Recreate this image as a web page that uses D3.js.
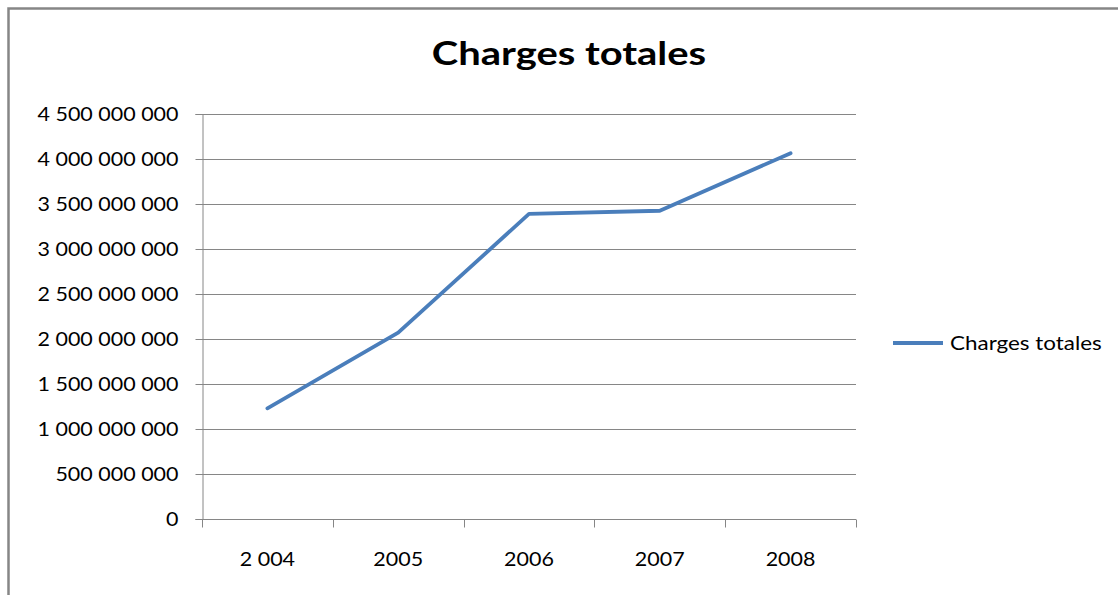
<!DOCTYPE html>
<html>
<head>
<meta charset="utf-8">
<script src="https://cdn.jsdelivr.net/npm/d3@7"></script>
<style>
  html, body { margin: 0; padding: 0; background: #fff; }
  svg { display: block; }
  text { font-family: Lato, "Open Sans", "Liberation Sans", sans-serif; fill: #000; }
</style>
</head>
<body>
<svg id="chart" width="1118" height="595"></svg>
<script>
// Data
const title = "Charges totales";
const seriesName = "Charges totales";
const years = ["2004", "2005", "2006", "2007", "2008"];
const yearLabels = ["2 004", "2005", "2006", "2007", "2008"];
const totals = [1230000000, 2070000000, 3390000000, 3425000000, 4065000000];
const yTicks = [0, 500000000, 1000000000, 1500000000, 2000000000, 2500000000, 3000000000, 3500000000, 4000000000, 4500000000];

const svg = d3.select("#chart");
const W = 1118, H = 595;
const plot = { left: 202, right: 856, top: 114, bottom: 519 };
const gridColor = "#868686";
const lineColor = "#4a7ebb";

// Widen text glyphs a little (Calibri-like proportions)
function widen(sel, factor) {
  sel.each(function() {
    const w = this.getComputedTextLength();
    d3.select(this).attr("textLength", w * factor).attr("lengthAdjust", "spacingAndGlyphs");
  });
}

// Outer chart frame
svg.append("rect")
  .attr("x", 8.5).attr("y", 8.5)
  .attr("width", W + 20).attr("height", H + 20)
  .attr("fill", "none").attr("stroke", gridColor).attr("stroke-width", 2.5);

// Scales
const x = d3.scaleBand().domain(years).range([plot.left, plot.right]).paddingInner(0).paddingOuter(0);
const y = d3.scaleLinear().domain([0, 4500000000]).range([plot.bottom, plot.top]);

const fmt = v => d3.format(",")(v).replace(/,/g, " ");

// Horizontal gridlines
svg.append("g").selectAll("line").data(yTicks.filter(d => d > 0)).join("line")
  .attr("x1", plot.left).attr("x2", plot.right)
  .attr("y1", d => Math.round(y(d)) + 0.5).attr("y2", d => Math.round(y(d)) + 0.5)
  .attr("stroke", gridColor).attr("stroke-width", 1);

// Y axis
const yAxis = svg.append("g")
  .attr("transform", `translate(${plot.left + 0.5},0)`)
  .call(d3.axisLeft(y).tickValues(yTicks).tickFormat(fmt).tickSize(7).tickPadding(17));
yAxis.select(".domain").attr("stroke", gridColor);
yAxis.selectAll(".tick line").attr("stroke", gridColor);
yAxis.selectAll(".tick").attr("transform", d => `translate(0,${Math.round(y(d)) + 0.5})`);
yAxis.selectAll(".tick text")
  .style("font-family", "Lato, 'Open Sans', sans-serif")
  .attr("font-size", 19).attr("fill", "#000").attr("dy", "0.34em")
  .call(widen, 1.13);

// X axis with ticks at category boundaries
const xAxisG = svg.append("g").attr("transform", `translate(0,${Math.round(plot.bottom) + 0.5})`);
xAxisG.append("line").attr("x1", plot.left).attr("x2", plot.right)
  .attr("stroke", gridColor).attr("stroke-width", 1);
const boundaries = years.map(d => x(d)).concat([x(years[years.length - 1]) + x.bandwidth()]);
xAxisG.selectAll("line.tk").data(boundaries).join("line").attr("class", "tk")
  .attr("x1", d => Math.round(d) + 0.5).attr("x2", d => Math.round(d) + 0.5)
  .attr("y1", 0).attr("y2", 8)
  .attr("stroke", gridColor).attr("stroke-width", 1);
xAxisG.selectAll("text").data(years).join("text")
  .attr("x", d => x(d) + x.bandwidth() / 2)
  .attr("y", 46)
  .attr("text-anchor", "middle")
  .attr("font-size", 19)
  .text((d, i) => yearLabels[i])
  .call(widen, 1.13);

// Series line
const line = d3.line()
  .x((d, i) => x(years[i]) + x.bandwidth() / 2)
  .y(d => y(d));
svg.append("path").datum(totals)
  .attr("d", line)
  .attr("fill", "none")
  .attr("stroke", lineColor)
  .attr("stroke-width", 3.8)
  .attr("stroke-linejoin", "round")
  .attr("stroke-linecap", "round");

// Title
svg.append("text")
  .attr("x", 569).attr("y", 65)
  .attr("text-anchor", "middle")
  .attr("font-size", 33).attr("font-weight", "bold")
  .text(title)
  .call(widen, 1.21);

// Legend
const lg = svg.append("g").attr("transform", "translate(893,343)");
lg.append("line").attr("x1", 0).attr("x2", 50).attr("y1", 0).attr("y2", 0)
  .attr("stroke", lineColor).attr("stroke-width", 3.8);
lg.append("text").attr("x", 57).attr("y", 0).attr("dy", "0.35em")
  .attr("font-size", 19).text(seriesName)
  .call(widen, 1.18);
</script>
</body>
</html>
